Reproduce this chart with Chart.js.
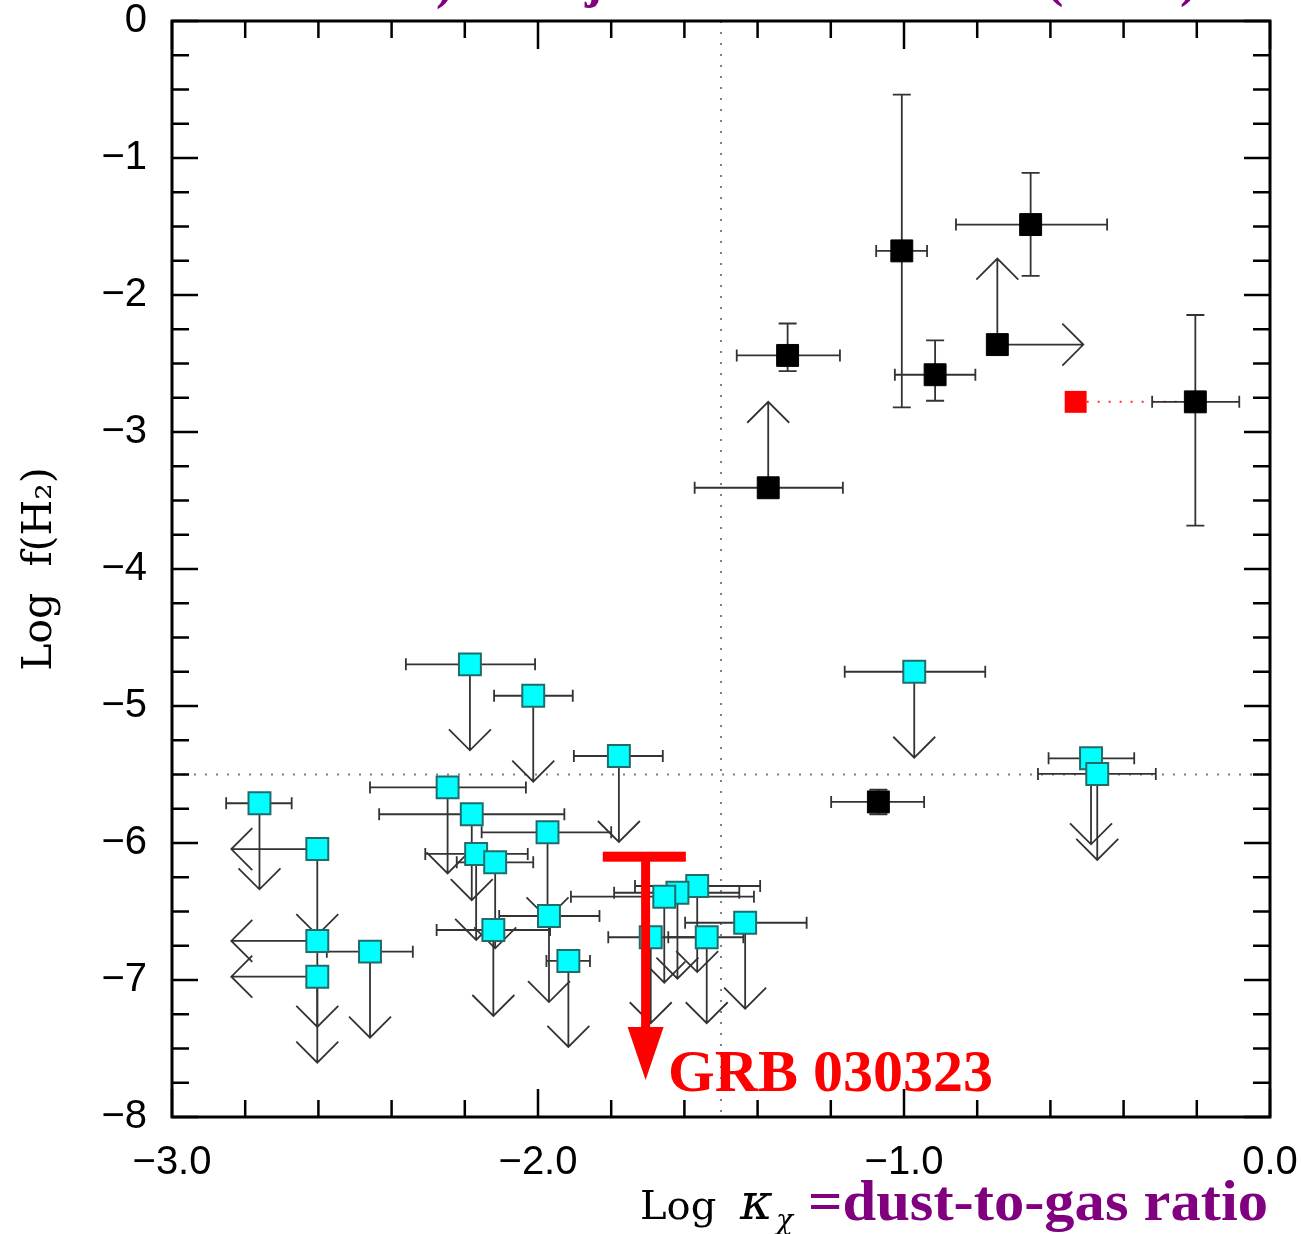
<!DOCTYPE html>
<html>
<head>
<meta charset="utf-8">
<script src="https://cdn.jsdelivr.net/npm/chart.js@4.4.1/dist/chart.umd.min.js"></script>
<style>
  html, body { margin: 0; padding: 0; background: #fff; }
  canvas { display: block; }
</style>
</head>
<body>
<canvas id="h2Chart" width="1301" height="1234"></canvas>
<script>
// axis ticks
const xMajorTicks = [-3, -2, -1, 0];
const yMajorTicks = [0, -1, -2, -3, -4, -5, -6, -7, -8];
const xMinorStep = 0.2;
const yMinorStep = 0.25;
const refX = -1.5;   // dotted vertical line
const refY = -5.5;   // dotted horizontal line

// black squares: H2 detections with error bars
const detX   = [-1.006, -0.654, -1.318, -0.915, -0.204, -1.070];
const detY   = [-1.678, -1.486, -2.441, -2.582, -2.780, -5.700];
const detXLo = [-1.076, -0.858, -1.457, -1.025, -0.322, -1.199];
const detXHi = [-0.937, -0.445, -1.175, -0.805, -0.084, -0.945];
const detYLo = [-2.820, -1.861, -2.556, -2.772, -3.683, -5.790];
const detYHi = [-0.538, -1.109, -2.208, -2.331, -2.146, -5.610];

// black squares: lower limits (arrow up, one also arrow right)
const lowX     = [-0.745, -1.371];
const lowY     = [-2.362, -3.407];
const lowXLo   = [null, -1.572];
const lowXHi   = [null, -1.167];
const lowRight = [true, false];

// red square, joined to the detection at x = -0.204
const redX     = [-0.531];
const redY     = [-2.780];
const redLinkX = [-0.204];

// cyan squares: upper limits (arrow down, some also arrow left)
const ulX   = [-2.186, -2.013, -1.779, -2.247, -2.181, -1.974, -2.761, -2.603, -2.603, -2.603,
               -2.459, -2.169, -2.117, -2.122, -1.970, -1.917, -1.565, -1.619, -1.655, -1.692,
               -1.539, -1.434, -0.972, -0.489, -0.472];
const ulY   = [-4.696, -4.925, -5.365, -5.594, -5.790, -5.922, -5.710, -6.044, -6.715, -6.976,
               -6.793, -6.080, -6.141, -6.635, -6.533, -6.861, -6.314, -6.363, -6.392, -6.688,
               -6.688, -6.582, -4.750, -5.382, -5.496];
const ulXLo = [-2.361, -2.120, -1.902, -2.459, -2.434, -2.154, -2.852, null, null, null,
               -2.577, -2.308, -2.222, -2.277, -2.106, -1.977, -1.735, -1.792, -1.910, -1.808,
               -1.644, -1.598, -1.162, -0.605, -0.634];
const ulXHi = [-2.008, -1.905, -1.659, -2.033, -1.928, -1.800, -2.673, null, null, null,
               -2.342, -2.028, -2.013, -1.967, -1.832, -1.858, -1.393, -1.450, -1.410, -1.567,
               -1.439, -1.266, -0.778, -0.371, -0.312];
const ulLeft = [false, false, false, false, false, false, false, true, true, true,
                false, false, false, false, false, false, false, false, false, false,
                false, false, false, false, false];

// GRB 030323 upper limit
const grbX = -1.706, grbY = -6.10, grbXLo = -1.823, grbXHi = -1.596, grbTipY = -7.73;

const ARROW = 86, HEAD = 21, XCAP = 6, YCAP = 9;
const LINE = '#333';

function toPts(xs, ys) { return xs.map((x, i) => ({ x: x, y: ys[i] })); }
function fmt(v, digits) {
  const s = Math.abs(v).toFixed(digits);
  return v < 0 ? '\u2212' + s : s;
}

function arrow(ctx, x, y, dx, dy) {
  const tx = x + dx * ARROW, ty = y + dy * ARROW;
  const bx = tx - dx * HEAD, by = ty - dy * HEAD;
  const px = -dy * HEAD, py = dx * HEAD;
  ctx.beginPath();
  ctx.moveTo(x, y); ctx.lineTo(tx, ty);
  ctx.moveTo(bx + px, by + py); ctx.lineTo(tx, ty); ctx.lineTo(bx - px, by - py);
  ctx.stroke();
}
function hBar(ctx, x1, x2, y) {
  ctx.beginPath();
  ctx.moveTo(x1, y); ctx.lineTo(x2, y);
  ctx.moveTo(x1, y - XCAP); ctx.lineTo(x1, y + XCAP);
  ctx.moveTo(x2, y - XCAP); ctx.lineTo(x2, y + XCAP);
  ctx.stroke();
}
function vBar(ctx, x, y1, y2) {
  ctx.beginPath();
  ctx.moveTo(x, y1); ctx.lineTo(x, y2);
  ctx.moveTo(x - YCAP, y1); ctx.lineTo(x + YCAP, y1);
  ctx.moveTo(x - YCAP, y2); ctx.lineTo(x + YCAP, y2);
  ctx.stroke();
}
function noPad(s) { s.paddingTop = 0; s.paddingBottom = 0; s.paddingLeft = 0; s.paddingRight = 0; }

// error bars, limit arrows and dotted guide lines under the markers
const underPlugin = {
  id: 'under',
  beforeDatasetsDraw(chart) {
    const ctx = chart.ctx, xs = chart.scales.x, ys = chart.scales.y, a = chart.chartArea;
    const X = v => xs.getPixelForValue(v), Y = v => ys.getPixelForValue(v);
    ctx.save();
    ctx.strokeStyle = '#808080';
    ctx.lineWidth = 2;
    ctx.setLineDash([2, 9]);
    ctx.beginPath();
    ctx.moveTo(X(refX), a.top); ctx.lineTo(X(refX), a.bottom);
    ctx.moveTo(a.left, Y(refY)); ctx.lineTo(a.right, Y(refY));
    ctx.stroke();
    ctx.strokeStyle = '#ff3030';
    ctx.beginPath();
    redX.forEach((x, i) => { ctx.moveTo(X(x), Y(redY[i])); ctx.lineTo(X(redLinkX[i]), Y(redY[i])); });
    ctx.stroke();
    ctx.setLineDash([]);

    ctx.strokeStyle = LINE;
    ctx.lineWidth = 1.8;
    detX.forEach((x, i) => {
      hBar(ctx, X(detXLo[i]), X(detXHi[i]), Y(detY[i]));
      vBar(ctx, X(x), Y(detYLo[i]), Y(detYHi[i]));
    });
    lowX.forEach((x, i) => {
      if (lowXLo[i] !== null) hBar(ctx, X(lowXLo[i]), X(lowXHi[i]), Y(lowY[i]));
      arrow(ctx, X(x), Y(lowY[i]), 0, -1);
      if (lowRight[i]) arrow(ctx, X(x), Y(lowY[i]), 1, 0);
    });
    ulX.forEach((x, i) => {
      if (ulXLo[i] !== null) hBar(ctx, X(ulXLo[i]), X(ulXHi[i]), Y(ulY[i]));
      arrow(ctx, X(x), Y(ulY[i]), 0, 1);
      if (ulLeft[i]) arrow(ctx, X(x), Y(ulY[i]), -1, 0);
    });
    ctx.restore();
  }
};

// GRB 030323 marker on top of the points
const grbPlugin = {
  id: 'grb',
  afterDatasetsDraw(chart) {
    const ctx = chart.ctx, xs = chart.scales.x, ys = chart.scales.y;
    const x = xs.getPixelForValue(grbX), y = ys.getPixelForValue(grbY);
    const tip = ys.getPixelForValue(grbTipY);
    ctx.save();
    ctx.fillStyle = '#ff0000';
    ctx.fillRect(xs.getPixelForValue(grbXLo), y - 5, xs.getPixelForValue(grbXHi) - xs.getPixelForValue(grbXLo), 10);
    ctx.fillRect(x - 4.5, y, 9, tip - 52 - y);
    ctx.beginPath();
    ctx.moveTo(x - 18, tip - 53); ctx.lineTo(x + 18, tip - 53); ctx.lineTo(x, tip);
    ctx.closePath();
    ctx.fill();
    ctx.font = 'bold 60px "Liberation Serif"';
    ctx.textBaseline = 'alphabetic';
    ctx.fillText('GRB 030323', 668, 1091);
    ctx.restore();
  }
};

// frame, inward ticks on all sides, x title, clipped header text
const framePlugin = {
  id: 'frame',
  afterDraw(chart) {
    const ctx = chart.ctx, xs = chart.scales.x, ys = chart.scales.y, a = chart.chartArea;
    ctx.save();
    ctx.strokeStyle = '#000';
    ctx.lineWidth = 2.5;
    ctx.beginPath();
    const nx = Math.round((xs.max - xs.min) / xMinorStep);
    for (let i = 0; i <= nx; i++) {
      const v = xs.min + i * xMinorStep;
      const major = xMajorTicks.some(t => Math.abs(t - v) < 1e-6);
      const len = major ? 28 : 17;
      const p = xs.getPixelForValue(v);
      ctx.moveTo(p, a.bottom); ctx.lineTo(p, a.bottom - len);
      ctx.moveTo(p, a.top); ctx.lineTo(p, a.top + len);
    }
    const ny = Math.round((ys.max - ys.min) / yMinorStep);
    for (let i = 0; i <= ny; i++) {
      const v = ys.min + i * yMinorStep;
      const major = yMajorTicks.some(t => Math.abs(t - v) < 1e-6);
      const len = major ? 26 : 17;
      const p = ys.getPixelForValue(v);
      ctx.moveTo(a.left, p); ctx.lineTo(a.left + len, p);
      ctx.moveTo(a.right, p); ctx.lineTo(a.right - len, p);
    }
    ctx.stroke();
    ctx.lineWidth = 3;
    ctx.strokeRect(a.left, a.top, a.right - a.left, a.bottom - a.top);

    // x axis title
    ctx.fillStyle = '#000';
    ctx.textBaseline = 'alphabetic';
    ctx.font = '40px "DejaVu Serif"';
    ctx.fillText('Log', 640, 1219);
    ctx.font = 'italic 50px "DejaVu Serif"';
    ctx.fillText('\u03ba', 740, 1219);
    ctx.font = 'italic 28px "DejaVu Serif"';
    ctx.fillText('\u03c7', 776, 1229);
    ctx.fillStyle = '#800080';
    ctx.font = 'bold 56px "Liberation Serif"';
    const t = '=dust-to-gas ratio';
    const w = ctx.measureText(t).width;
    ctx.save();
    ctx.translate(808, 1220);
    ctx.scale(460 / w, 1);
    ctx.fillText(t, 0, 0);
    ctx.restore();

    // header text running off the top edge
    ctx.font = 'bold 52px "Liberation Serif"';
    ctx.fillText(')', 436, -2);
    ctx.fillText('j', 585, -3);
    ctx.fillText('(', 1046, -4);
    ctx.fillText(')', 1180, -4);
    ctx.restore();
  }
};

const ctx = document.getElementById('h2Chart').getContext('2d');
const h2Chart = new Chart(ctx, {
  type: 'scatter',
  data: {
    datasets: [
      {
        data: toPts(redX, redY),
        pointStyle: 'rect', pointRadius: 15.5,
        backgroundColor: '#ff0000', borderColor: '#ff0000', borderWidth: 0
      },
      {
        data: toPts(detX.concat(lowX), detY.concat(lowY)),
        pointStyle: 'rect', pointRadius: 15.5,
        backgroundColor: '#000', borderColor: '#000', borderWidth: 1
      },
      {
        data: toPts(ulX, ulY),
        pointStyle: 'rect', pointRadius: 15.5,
        backgroundColor: '#00ffff', borderColor: '#236b6b', borderWidth: 2
      }
    ]
  },
  options: {
    responsive: false,
    animation: false,
    events: [],
    layout: { padding: { top: 21, right: 31, left: 0, bottom: 0 } },
    plugins: { legend: { display: false }, tooltip: { enabled: false } },
    scales: {
      x: {
        type: 'linear', min: -3, max: 0,
        afterBuildTicks: s => { s.ticks = xMajorTicks.map(v => ({ value: v })); },
        afterFit: s => { s.height = 117; noPad(s); },
        grid: { display: false, drawTicks: false },
        border: { display: false },
        ticks: {
          padding: 22, color: '#000', maxRotation: 0,
          font: { family: '"Liberation Sans"', size: 40 },
          callback: v => fmt(v, 1)
        }
      },
      y: {
        type: 'linear', min: -8, max: 0,
        afterBuildTicks: s => { s.ticks = yMajorTicks.map(v => ({ value: v })); },
        afterFit: s => { s.width = 172; noPad(s); },
        grid: { display: false, drawTicks: false },
        border: { display: false },
        ticks: {
          padding: 25, color: '#000',
          font: { family: '"Liberation Sans"', size: 40 },
          callback: v => fmt(v, 0)
        },
        title: {
          display: true, text: 'Log  f(H\u2082)', color: '#000',
          font: { family: '"DejaVu Serif"', size: 41 },
          padding: { top: 16, bottom: 0 }
        }
      }
    }
  },
  plugins: [underPlugin, grbPlugin, framePlugin]
});
</script>
</body>
</html>
